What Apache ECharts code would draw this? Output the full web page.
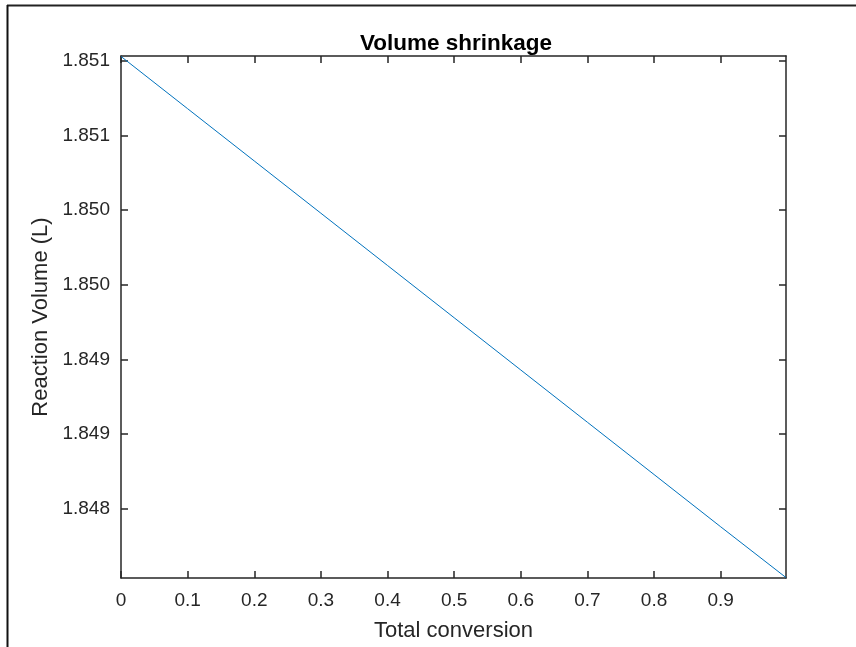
<!DOCTYPE html>
<html>
<head>
<meta charset="utf-8">
<script src="https://cdn.jsdelivr.net/npm/echarts@6/dist/echarts.min.js"></script>
<style>
html,body{margin:0;padding:0;background:#fff;}
#chart{width:856px;height:647px;}
</style>
</head>
<body>
<div id="chart"></div>
<script>
// Data
var conversion = [0, 0.1, 0.2, 0.3, 0.4, 0.5, 0.6, 0.7, 0.8, 0.9, 0.998];
var volume = [1.85103, 1.85068, 1.85033, 1.84998, 1.84963, 1.84928, 1.84893, 1.84858, 1.84823, 1.84788, 1.84754];
var xTickValues = [0, 0.1, 0.2, 0.3, 0.4, 0.5, 0.6, 0.7, 0.8, 0.9];
var xTickLabels = ['0', '0.1', '0.2', '0.3', '0.4', '0.5', '0.6', '0.7', '0.8', '0.9'];
var yTickValues = [1.848, 1.8485, 1.849, 1.8495, 1.85, 1.8505, 1.851];
var yTickLabels = ['1.848', '1.849', '1.849', '1.850', '1.850', '1.851', '1.851'];
var xRange = [0, 0.998];
var yRange = [1.847537, 1.851033];

var FONT = '"Liberation Sans", Arial, Helvetica, sans-serif';
var AX = '#262626';

function labelFor(vals, labels) {
  return function (v) {
    for (var i = 0; i < vals.length; i++) {
      if (Math.abs(vals[i] - v) < 1e-7) return labels[i];
    }
    return '';
  };
}

var chart = echarts.init(document.getElementById('chart'), null, {renderer: 'canvas'});

var axisCommon = {
  axisLine: {show: true, onZero: false, lineStyle: {color: AX, width: 1.5}},
  splitLine: {show: false}
};

var points = conversion.map(function (x, i) { return [x, volume[i]]; });

chart.setOption({
  animation: false,
  backgroundColor: '#ffffff',
  title: {
    text: 'Volume shrinkage',
    left: 451,
    textAlign: 'center',
    top: 27,
    textStyle: {fontFamily: FONT, fontSize: 22.5, fontWeight: 'bold', color: '#000'}
  },
  grid: {left: 121, right: 70, top: 56, bottom: 68, containLabel: false},
  xAxis: [
    Object.assign({
      type: 'value', position: 'bottom', min: xRange[0], max: xRange[1],
      name: 'Total conversion', nameLocation: 'middle', nameGap: 42,
      nameTextStyle: {fontFamily: FONT, fontSize: 22, color: AX},
      axisTick: {show: true, inside: true, length: 7, lineStyle: {color: AX, width: 1.5}, customValues: xTickValues},
      axisLabel: {show: true, margin: 13, fontFamily: FONT, fontSize: 19, color: AX,
        customValues: xTickValues, formatter: labelFor(xTickValues, xTickLabels)}
    }, axisCommon),
    Object.assign({
      type: 'value', position: 'top', min: xRange[0], max: xRange[1],
      axisTick: {show: true, inside: true, length: 7, lineStyle: {color: AX, width: 1.5}, customValues: xTickValues},
      axisLabel: {show: false}
    }, axisCommon)
  ],
  yAxis: [
    Object.assign({
      type: 'value', position: 'left', min: yRange[0], max: yRange[1],
      name: 'Reaction Volume (L)', nameLocation: 'middle', nameGap: 68, nameRotate: 90,
      nameTextStyle: {fontFamily: FONT, fontSize: 22, color: AX},
      axisTick: {show: true, inside: true, length: 7, lineStyle: {color: AX, width: 1.5}, customValues: yTickValues},
      axisLabel: {show: true, margin: 11, fontFamily: FONT, fontSize: 19, color: AX,
        customValues: yTickValues, formatter: labelFor(yTickValues, yTickLabels)}
    }, axisCommon),
    Object.assign({
      type: 'value', position: 'right', min: yRange[0], max: yRange[1],
      axisTick: {show: true, inside: true, length: 7, lineStyle: {color: AX, width: 1.5}, customValues: yTickValues},
      axisLabel: {show: false}
    }, axisCommon)
  ],
  series: [{
    type: 'line',
    xAxisIndex: 0, yAxisIndex: 0,
    data: points,
    showSymbol: false,
    symbol: 'none',
    lineStyle: {color: '#0072BD', width: 1},
    clip: true
  }],
  graphic: [
    {type: 'line', shape: {x1: 7, y1: 5.5, x2: 856, y2: 5.5}, style: {stroke: '#222', lineWidth: 2}},
    {type: 'line', shape: {x1: 7.5, y1: 5, x2: 7.5, y2: 647}, style: {stroke: '#111', lineWidth: 2}}
  ]
});
</script>
</body>
</html>
